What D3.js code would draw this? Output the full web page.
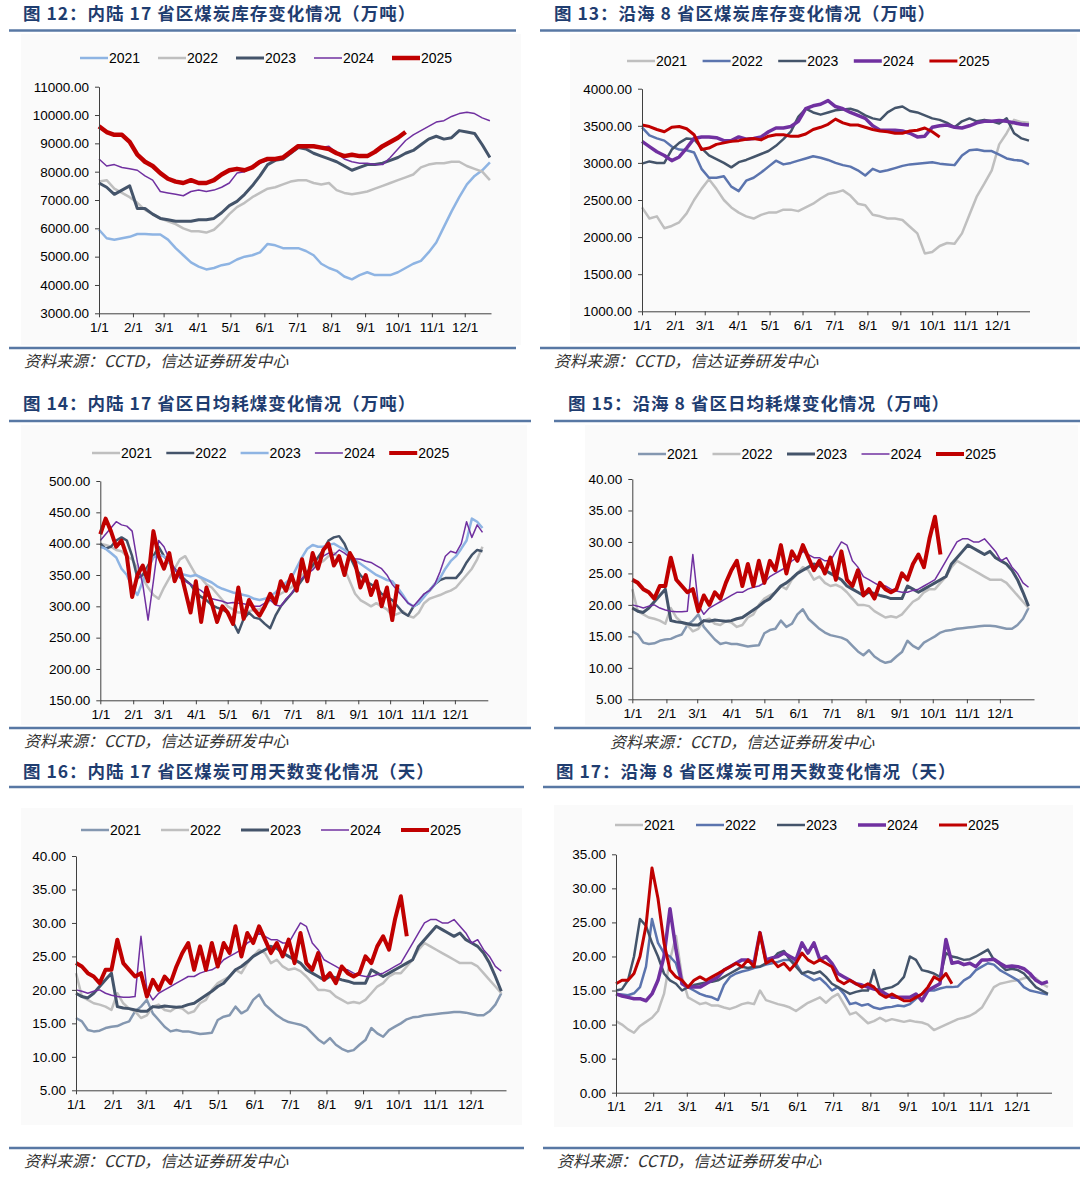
<!DOCTYPE html>
<html lang="zh-CN">
<head>
    <title>煤炭库存、日耗与可用天数</title>
    <meta charset="utf-8">
    <style>
        body { margin: 0; background: #fff; }
        .tick text { font-family: "Liberation Sans", Arial, sans-serif; font-size: 13.5px; fill: #000; }
        .domain, .tick line { stroke: #404040; stroke-width: 1px; }
        .title { font-family: "Noto Sans CJK SC", sans-serif; font-weight: bold; font-size: 17.5px; letter-spacing: 1px; fill: #1f3d70; white-space: pre; }
        .source { font-family: "Noto Sans CJK SC", sans-serif; font-style: italic; font-size: 16px; fill: #333; }
        .legend text { font-family: "Liberation Sans", Arial, sans-serif; font-size: 14px; fill: #000; }
    </style>
    <script src="https://d3js.org/d3.v7.min.js"></script>
</head>

<body>
<div id="chart"></div>

<script>

    // month ticks on the x axis (day of year)
    const monthTicks = [0, 31, 59, 90, 120, 151, 181, 212, 243, 273, 304, 334];
    const monthLabels = ["1/1", "2/1", "3/1", "4/1", "5/1", "6/1", "7/1", "8/1", "9/1", "10/1", "11/1", "12/1"];
    const yearNames = ["2021", "2022", "2023", "2024", "2025"];
    const sourceText = "资料来源：CCTD，信达证券研发中心";

    // 图12 内陆17省区煤炭库存（万吨），one point every 7 days
    const inlandStock2021 = [5950, 5650, 5600, 5650, 5700, 5800, 5800, 5780, 5780, 5600, 5300, 5050, 4800, 4650, 4550, 4600, 4700, 4750, 4900, 5000, 5050, 5150, 5450, 5400, 5300, 5300, 5300, 5200, 5050, 4750, 4600, 4500, 4300, 4200, 4350, 4450, 4350, 4350, 4350, 4450, 4600, 4750, 4850, 5150, 5500, 6050, 6600, 7100, 7550, 7850, 8050, 8330];
    const inlandStock2022 = [7650, 7700, 7400, 7250, 7100, 6900, 6650, 6500, 6350, 6250, 6150, 6000, 5900, 5900, 5850, 5950, 6200, 6500, 6750, 6900, 7100, 7250, 7400, 7450, 7550, 7650, 7700, 7700, 7600, 7550, 7600, 7350, 7250, 7200, 7250, 7300, 7400, 7500, 7600, 7700, 7800, 7900, 8150, 8250, 8300, 8300, 8350, 8350, 8200, 8100, 8000, 7700];
    const inlandStock2023 = [7600, 7450, 7200, 7350, 7500, 6700, 6700, 6500, 6350, 6300, 6250, 6250, 6250, 6300, 6300, 6350, 6550, 6800, 6950, 7200, 7500, 7850, 8250, 8400, 8450, 8650, 8850, 8800, 8650, 8550, 8450, 8350, 8200, 8050, 8150, 8250, 8250, 8300, 8400, 8500, 8650, 8750, 8950, 9150, 9250, 9150, 9200, 9450, 9400, 9350, 8950, 8500];
    const inlandStock2024 = [8450, 8200, 8250, 8150, 8100, 8050, 7850, 7700, 7300, 7250, 7200, 7150, 7300, 7350, 7300, 7350, 7450, 7600, 7950, 8000, 8150, 8300, 8400, 8450, 8500, 8750, 8950, 8950, 8900, 8850, 8900, 8650, 8450, 8350, 8300, 8300, 8250, 8250, 8500, 8800, 9100, 9300, 9450, 9600, 9750, 9800, 9950, 10050, 10100, 10050, 9900, 9800];
    const inlandStock2025 = [9600, 9400, 9300, 9300, 9050, 8600, 8350, 8200, 7950, 7750, 7650, 7600, 7700, 7600, 7600, 7700, 7900, 8050, 8100, 8050, 8150, 8350, 8450, 8450, 8500, 8700, 8900, 8900, 8900, 8850, 8800, 8650, 8550, 8600, 8550, 8550, 8700, 8900, 9050, 9200, 9400];

    // 图13 沿海8省区煤炭库存（万吨），every 7 days
    const coastStock2021 = [2400, 2250, 2280, 2120, 2150, 2200, 2320, 2500, 2650, 2780, 2650, 2500, 2400, 2330, 2280, 2250, 2300, 2330, 2330, 2370, 2370, 2350, 2400, 2450, 2520, 2580, 2600, 2630, 2560, 2450, 2430, 2300, 2280, 2250, 2250, 2230, 2140, 2050, 1780, 1800, 1880, 1920, 1910, 2050, 2300, 2550, 2720, 2900, 3250, 3400, 3580, 3550, 3540];
    const coastStock2022 = [3480, 3370, 3330, 3300, 3220, 3180, 3170, 3140, 2920, 2800, 2800, 2820, 2680, 2620, 2760, 2800, 2870, 2950, 3030, 2980, 3000, 3030, 3060, 3090, 3070, 3040, 3000, 2970, 2950, 2900, 2830, 2920, 2880, 2900, 2930, 2960, 2980, 2990, 3000, 3010, 2990, 2980, 2970, 3100, 3170, 3180, 3160, 3160, 3110, 3060, 3040, 3030, 2980];
    const coastStock2023 = [2990, 3020, 3000, 3000, 3180, 3270, 3330, 3320, 3200, 3100, 3050, 3000, 2940, 3010, 3040, 3080, 3120, 3160, 3230, 3320, 3420, 3620, 3730, 3680, 3650, 3680, 3710, 3720, 3730, 3700, 3640, 3600, 3580, 3680, 3740, 3760, 3700, 3680, 3640, 3600, 3580, 3540, 3480, 3560, 3600, 3560, 3580, 3560, 3530, 3600, 3400, 3330, 3300];
    const coastStock2024 = [3290, 3220, 3150, 3100, 3030, 3080, 3200, 3330, 3350, 3350, 3340, 3300, 3300, 3350, 3320, 3330, 3350, 3420, 3470, 3470, 3490, 3560, 3730, 3770, 3790, 3840, 3760, 3730, 3680, 3640, 3600, 3500, 3440, 3440, 3440, 3430, 3400, 3350, 3360, 3480, 3500, 3510, 3480, 3470, 3500, 3540, 3560, 3560, 3570, 3560, 3540, 3520, 3510];
    const coastStock2025 = [3510, 3490, 3450, 3420, 3480, 3490, 3460, 3380, 3180, 3200, 3250, 3270, 3290, 3300, 3320, 3330, 3310, 3360, 3380, 3380, 3360, 3360, 3390, 3450, 3480, 3520, 3590, 3540, 3510, 3510, 3480, 3450, 3430, 3420, 3400, 3400, 3430, 3440, 3470, 3420, 3350];

    // 图14 内陆17省区日均耗煤（万吨），every 5 days
    const inlandBurn2021 = [400, 398, 395, 390, 388, 380, 375, 360, 345, 330, 318, 312, 330, 345, 360, 375, 380, 365, 350, 345, 335, 330, 320, 310, 300, 295, 290, 290, 292, 295, 295, 300, 310, 315, 320, 325, 330, 340, 350, 355, 362, 368, 372, 380, 385, 378, 360, 340, 320, 310, 305, 300, 305, 300, 295, 285, 288, 292, 285, 282, 290, 305, 312, 315, 318, 322, 325, 330, 340, 350, 360, 375, 395];
    const inlandBurn2022 = [400, 392, 395, 405, 410, 405, 380, 345, 350, 365, 380, 395, 380, 370, 360, 350, 342, 335, 322, 315, 310, 302, 298, 295, 290, 275, 258, 280, 290, 282, 280, 272, 265, 285, 300, 310, 320, 330, 342, 355, 365, 378, 390, 405, 410, 412, 400, 380, 362, 350, 340, 335, 330, 320, 315, 310, 300, 290, 285, 300, 305, 318, 325, 335, 342, 345, 345, 345, 355, 370, 382, 390, 388];
    const inlandBurn2023 = [395, 392, 385, 378, 360, 350, 330, 318, 340, 360, 378, 382, 380, 370, 358, 352, 350, 348, 350, 346, 342, 338, 332, 328, 325, 322, 320, 318, 316, 312, 310, 312, 316, 322, 330, 338, 345, 362, 378, 392, 398, 395, 395, 398, 400, 395, 390, 382, 374, 368, 362, 356, 350, 346, 342, 340, 330, 318, 305, 300, 305, 315, 325, 335, 345, 360, 372, 380, 392, 405, 440, 435, 425];
    const inlandBurn2024 = [405, 415, 425, 435, 430, 428, 420, 370, 335, 278, 340, 405, 395, 375, 360, 345, 340, 335, 330, 325, 318, 312, 310, 308, 305, 306, 305, 304, 302, 300, 300, 305, 310, 302, 300, 312, 320, 335, 345, 352, 358, 368, 380, 385, 382, 390, 385, 378, 376, 375, 372, 370, 365, 360, 350, 335, 325, 315, 305, 300, 310, 320, 325, 335, 355, 380, 388, 385, 400, 435, 410, 430, 418];
    const inlandBurn2025 = [415, 440, 420, 395, 405, 380, 315, 350, 365, 340, 420, 380, 360, 385, 340, 360, 325, 290, 340, 275, 330, 305, 275, 300, 290, 272, 330, 280, 310, 295, 285, 300, 320, 305, 340, 325, 350, 325, 375, 340, 385, 360, 390, 400, 365, 380, 350, 385, 370, 330, 350, 318, 340, 300, 330, 278, 335];

    // 图15 沿海8省区日均耗煤（万吨），every 5 days
    // 图16 in the source repeats these same curves
    const coastBurn2021 = [15.8, 15.3, 14.0, 13.8, 13.9, 14.3, 14.5, 14.6, 15.0, 15.3, 16.8, 17.5, 18.5, 16.5, 15.5, 14.5, 13.8, 14.0, 13.8, 13.8, 13.6, 13.4, 13.5, 13.6, 15.5, 16.0, 16.2, 17.5, 16.5, 17.0, 18.5, 19.3, 17.8, 17.0, 16.2, 15.6, 15.2, 15.0, 14.8, 14.4, 13.5, 12.6, 12.0, 12.8, 11.8, 11.2, 10.8, 11.0, 11.8, 12.5, 14.3, 13.5, 13.0, 14.0, 14.5, 15.0, 15.6, 15.9, 16.0, 16.2, 16.3, 16.4, 16.5, 16.6, 16.7, 16.7, 16.6, 16.4, 16.2, 16.2, 16.8, 17.8, 19.5];
    const coastBurn2022 = [22.5, 19.0, 18.5, 18.0, 17.8, 17.5, 17.0, 19.5, 18.0, 17.2, 16.8, 15.8, 16.2, 17.5, 17.8, 17.0, 16.8, 17.4, 17.2, 16.5, 16.8, 18.0, 18.5, 20.0, 21.0, 21.5, 22.0, 23.0, 22.5, 24.0, 25.0, 26.0, 25.5, 24.0, 24.5, 23.5, 23.0, 23.2, 22.8, 22.0, 21.0, 20.0, 20.0, 19.8, 19.0, 18.5, 18.0, 18.2, 18.0, 18.5, 19.5, 20.5, 21.0, 22.0, 22.5, 22.5, 23.5, 24.5, 26.0, 27.0, 26.5, 26.0, 25.5, 25.0, 24.5, 24.0, 24.0, 24.0, 23.5, 22.5, 21.5, 20.5, 19.5];
    const coastBurn2023 = [19.5, 19.0, 18.8, 19.5, 20.5, 21.5, 22.5, 17.5, 17.3, 17.2, 17.0, 16.8, 16.8, 17.5, 17.4, 17.6, 17.5, 17.4, 17.5, 17.8, 18.0, 18.6, 19.2, 19.8, 20.5, 21.0, 22.0, 23.0, 23.5, 24.2, 25.0, 25.5, 26.0, 26.5, 26.2, 25.5, 25.0, 24.5, 24.0, 23.0, 22.5, 22.0, 21.5, 22.0, 21.8, 21.5, 21.3, 21.0, 21.0, 21.0, 23.0, 22.5, 22.0, 22.5, 23.0, 23.5, 24.0, 24.5, 26.5, 27.5, 28.5, 29.5, 29.0, 28.5, 28.0, 28.5, 27.5, 27.0, 26.5, 25.5, 24.0, 22.0, 19.8];
    const coastBurn2024 = [20.0, 19.8, 19.5, 19.8, 20.0, 19.5, 19.2, 19.0, 18.9, 18.9, 19.0, 28.0, 20.0, 18.5, 19.5, 20.0, 20.5, 21.0, 21.5, 22.0, 22.0, 22.5, 22.8, 23.0, 23.5, 24.5, 25.0, 25.5, 26.0, 27.0, 27.5, 28.5, 28.0, 27.5, 27.5, 27.0, 27.0, 28.5, 30.0, 29.5, 27.0, 26.0, 24.5, 24.0, 23.5, 23.0, 23.0, 22.5, 22.2, 22.0, 22.0, 22.3, 22.5, 23.0, 23.5, 24.0, 25.5, 27.0, 28.5, 30.0, 30.5, 30.5, 30.0, 30.0, 30.5, 29.5, 28.5, 27.0, 27.5, 26.0, 25.0, 23.5, 22.8];
    const coastBurn2025 = [24.0, 23.5, 22.5, 22.0, 21.0, 23.0, 23.0, 27.5, 24.0, 23.0, 22.0, 22.5, 19.0, 21.5, 20.0, 22.0, 21.0, 23.5, 25.5, 27.0, 23.0, 26.5, 23.0, 27.0, 23.5, 27.0, 25.5, 29.5, 25.0, 28.5, 27.0, 29.5, 27.5, 25.5, 27.0, 25.0, 27.5, 24.0, 28.5, 24.0, 23.0, 25.5, 21.5, 22.5, 21.0, 23.5, 22.5, 22.0, 22.5, 25.0, 24.0, 26.5, 28.0, 26.0, 30.5, 34.0, 28.0];

    // 图17 沿海8省区煤炭可用天数（天），every 5 days
    const coastDays2021 = [10.5, 10.0, 9.3, 8.8, 9.8, 10.4, 11.0, 12.0, 14.5, 19.5, 23.0, 17.0, 14.0, 13.5, 13.0, 13.2, 12.8, 12.8, 12.5, 12.3, 12.6, 13.0, 13.2, 13.0, 15.0, 13.6, 13.3, 13.0, 12.8, 12.5, 12.0, 12.6, 13.2, 13.6, 14.0, 13.2, 14.0, 14.5, 13.0, 11.5, 11.8, 11.0, 10.2, 10.5, 11.0, 10.5, 10.8, 10.6, 10.4, 10.6, 10.4, 10.3, 10.0, 9.2, 9.6, 10.0, 10.4, 10.8, 11.0, 11.3, 11.8, 12.5, 14.0, 15.5, 16.0, 16.2, 16.4, 16.5, 16.8, 17.0, 16.8, 16.0, 15.5];
    const coastDays2022 = [14.5, 14.4, 14.3, 14.6, 15.5, 18.5, 25.5, 22.0, 20.5, 20.0, 19.0, 16.0, 15.5, 15.0, 14.5, 14.2, 14.0, 13.6, 15.8, 17.0, 17.5, 17.8, 18.0, 18.3, 18.5, 18.8, 19.0, 19.2, 19.5, 19.5, 19.0, 17.5, 17.0, 16.5, 16.8, 16.0, 15.0, 15.5, 14.5, 13.0, 13.2, 12.8, 13.0, 12.5, 12.3, 12.5, 12.6, 12.8, 12.7, 13.0, 13.8, 14.5, 15.0, 15.0, 15.3, 15.5, 15.5, 15.6, 16.5, 17.0, 18.0, 18.5, 19.0, 18.8, 18.0, 17.5, 17.0, 16.5, 15.5, 15.0, 14.8, 14.6, 14.4];
    const coastDays2023 = [15.0, 15.2, 16.5, 20.0, 25.5, 24.5, 22.0, 20.0, 17.5, 16.5, 16.0, 15.0, 15.5, 15.8, 16.0, 16.2, 16.3, 16.5, 17.0, 17.5, 18.0, 18.5, 18.3, 18.5, 18.5, 19.0, 19.5, 20.5, 20.8, 19.5, 18.5, 17.5, 17.8, 17.5, 17.8, 17.0, 16.0, 15.5, 15.0, 14.5, 14.8, 15.0, 15.0, 18.0, 15.0, 15.3, 15.5, 16.0, 17.0, 20.0, 19.5, 18.0, 17.8, 17.5, 17.0, 20.5, 20.0, 19.8, 19.5, 19.6, 20.0, 20.5, 21.0, 19.5, 18.8, 18.0, 18.2, 18.0, 17.5, 16.5, 15.5, 15.0, 14.5];
    const coastDays2024 = [14.5, 14.2, 14.0, 13.8, 13.8, 13.5, 14.5, 16.5, 20.0, 27.0, 21.0, 16.0, 15.5, 15.5, 15.5, 16.0, 16.5, 17.0, 18.0, 18.5, 19.0, 19.5, 19.5, 19.0, 23.5, 19.5, 19.8, 20.0, 20.5, 20.0, 19.5, 22.0, 20.5, 22.0, 19.5, 20.0, 19.0, 17.5, 17.0, 16.5, 16.0, 15.8, 15.5, 15.2, 15.0, 14.5, 14.0, 14.0, 14.0, 14.0, 14.5, 13.5, 15.0, 15.5, 16.0, 22.5, 19.0, 19.2, 18.8, 19.0, 18.5, 19.5, 19.5, 19.6, 19.0, 18.5, 18.6, 18.5, 18.2, 17.5, 16.5, 16.0, 16.3];
    const coastDays2025 = [16.0, 16.5, 16.5, 17.5, 20.0, 24.5, 33.0, 28.5, 22.0, 18.0, 17.0, 16.5, 15.5, 16.5, 17.0, 16.5, 17.0, 17.5, 18.0, 18.5, 19.0, 18.5, 19.5, 18.5, 23.5, 19.0, 19.5, 18.5, 19.0, 18.0, 19.0, 20.5, 19.5, 19.0, 19.5, 19.0, 18.5, 16.5, 16.0, 16.5, 16.0, 15.5, 16.0, 15.5, 14.5, 14.0, 14.5, 14.0, 13.5, 13.5, 14.0, 14.5, 15.5, 17.0, 16.5, 17.5, 16.0];

    const LIGHT_BLUE = "#8eb4e3",
        GRAY = "#bfbfbf",
        SLATE = "#44546a",
        PURPLE = "#7030a0",
        RED = "#c00000",
        BLUE = "#5b74ae",
        GRAY_BLUE = "#8497b0";

    const panels = [
        {
            title: "图 12：内陆 17 省区煤炭库存变化情况（万吨）", titleX: 23, titleY: 12.5,
            rule: [9, 516], ruleTop: 30.5, ruleBottom: 348, sourceX: 24, sourceY: 360,
            bg: [21, 34, 500, 311],
            xRange: [99, 491], dayEnd: 358, yRange: [313.3, 86.7], yDomain: [3000, 11000],
            yTicks: d3.range(3000, 11001, 1000), step: 7,
            legendX: 80, legendY: 58, legendGap: 78,
            series: [
                {data: inlandStock2021, color: LIGHT_BLUE, width: 2.5},
                {data: inlandStock2022, color: GRAY, width: 2.5},
                {data: inlandStock2023, color: SLATE, width: 3},
                {data: inlandStock2024, color: PURPLE, width: 1.5},
                {data: inlandStock2025, color: RED, width: 4.5}
            ]
        },
        {
            title: "图 13：沿海 8 省区煤炭库存变化情况（万吨）", titleX: 554, titleY: 12.5,
            rule: [540, 1080], ruleTop: 30.5, ruleBottom: 348, sourceX: 554, sourceY: 360,
            bg: [570, 34, 507, 309],
            xRange: [642, 1029.5], dayEnd: 364.5, yRange: [311.3, 88.7], yDomain: [1000, 4000],
            yTicks: d3.range(1000, 4001, 500), step: 7,
            legendX: 627, legendY: 61, legendGap: 75.6,
            series: [
                {data: coastStock2021, color: GRAY, width: 2.5},
                {data: coastStock2022, color: BLUE, width: 2.5},
                {data: coastStock2023, color: SLATE, width: 2.5},
                {data: coastStock2024, color: PURPLE, width: 3.5},
                {data: coastStock2025, color: RED, width: 3}
            ]
        },
        {
            title: "图 14：内陆 17 省区日均耗煤变化情况（万吨）", titleX: 23, titleY: 402.5,
            rule: [9, 531], ruleTop: 421, ruleBottom: 728, sourceX: 24, sourceY: 740,
            bg: [21, 425, 506, 300],
            xRange: [100.3, 487.8], dayEnd: 365, yRange: [700.3, 481], yDomain: [150, 500],
            yTicks: d3.range(150, 501, 50), step: 5,
            legendX: 92, legendY: 453, legendGap: 74.3,
            series: [
                {data: inlandBurn2021, color: GRAY, width: 2.5},
                {data: inlandBurn2022, color: SLATE, width: 2.5},
                {data: inlandBurn2023, color: LIGHT_BLUE, width: 2.5},
                {data: inlandBurn2024, color: PURPLE, width: 1.5},
                {data: inlandBurn2025, color: RED, width: 4}
            ]
        },
        {
            title: "图 15：沿海 8 省区日均耗煤变化情况（万吨）", titleX: 568, titleY: 402.5,
            rule: [554, 1080], ruleTop: 421, ruleBottom: 728, sourceX: 610, sourceY: 741,
            bg: [585, 425, 493, 300],
            xRange: [632.3, 1034], dayEnd: 365, yRange: [699.3, 479], yDomain: [5, 40],
            yTicks: d3.range(5, 41, 5), step: 5,
            legendX: 638, legendY: 454, legendGap: 74.5,
            series: [
                {data: coastBurn2021, color: GRAY_BLUE, width: 2.5},
                {data: coastBurn2022, color: GRAY, width: 2.5},
                {data: coastBurn2023, color: SLATE, width: 3},
                {data: coastBurn2024, color: PURPLE, width: 1.5},
                {data: coastBurn2025, color: RED, width: 4}
            ]
        },
        {
            title: "图 16：内陆 17 省区煤炭可用天数变化情况（天）", titleX: 23, titleY: 770,
            rule: [9, 524], ruleTop: 787, ruleBottom: 1148, sourceX: 24, sourceY: 1160,
            bg: [21, 808, 501, 317],
            xRange: [76, 506], dayEnd: 364, yRange: [1090.3, 856], yDomain: [5, 40],
            yTicks: d3.range(5, 41, 5), step: 5,
            legendX: 81, legendY: 830, legendGap: 80,
            series: [
                {data: coastBurn2021, color: GRAY_BLUE, width: 2.5},
                {data: coastBurn2022, color: GRAY, width: 2.5},
                {data: coastBurn2023, color: SLATE, width: 3},
                {data: coastBurn2024, color: PURPLE, width: 1.5},
                {data: coastBurn2025, color: RED, width: 4}
            ]
        },
        {
            title: "图 17：沿海 8 省区煤炭可用天数变化情况（天）", titleX: 556, titleY: 770,
            rule: [543, 1080], ruleTop: 787, ruleBottom: 1148, sourceX: 557, sourceY: 1160,
            bg: [554, 805, 519, 322],
            xRange: [616, 1051.5], dayEnd: 363, yRange: [1092.7, 854.3], yDomain: [0, 35],
            yTicks: d3.range(0, 36, 5), step: 5,
            legendX: 615, legendY: 825, legendGap: 81,
            series: [
                {data: coastDays2021, color: GRAY, width: 2.5},
                {data: coastDays2022, color: BLUE, width: 2.5},
                {data: coastDays2023, color: SLATE, width: 2.5},
                {data: coastDays2024, color: PURPLE, width: 3.5},
                {data: coastDays2025, color: RED, width: 3}
            ]
        }
    ];

    const svg = d3.select("#chart")
        .append("svg")
        .attr("width", 1080)
        .attr("height", 1187)
        .style("display", "block");

    svg.append("rect")
        .attr("width", 1080)
        .attr("height", 1187)
        .attr("fill", "#fff");

    panels.forEach(p => {
        const g = svg.append("g");

        // faint chart area like the excel export
        g.append("rect")
            .attr("x", p.bg[0]).attr("y", p.bg[1])
            .attr("width", p.bg[2]).attr("height", p.bg[3])
            .attr("fill", "#fafafa");

        // title and the blue rules
        g.append("text")
            .attr("class", "title")
            .attr("x", p.titleX)
            .attr("y", p.titleY)
            .attr("dominant-baseline", "central")
            .text(p.title);

        [p.ruleTop, p.ruleBottom].forEach(ry => {
            g.append("line")
                .attr("x1", p.rule[0]).attr("x2", p.rule[1])
                .attr("y1", ry).attr("y2", ry)
                .attr("stroke", "#5878a4")
                .attr("stroke-width", 2.5);
        });

        g.append("text")
            .attr("class", "source")
            .attr("x", p.sourceX)
            .attr("y", p.sourceY)
            .attr("dominant-baseline", "central")
            .text(sourceText);

        const x = d3.scaleLinear()
            .domain([0, p.dayEnd])
            .range(p.xRange);
        const y = d3.scaleLinear()
            .domain(p.yDomain)
            .range(p.yRange);

        const line = d3.line()
            .x(d => x(d.day))
            .y(d => y(d.v));

        // lines, oldest year first so 2025 sits on top
        p.series.forEach(s => {
            g.append("path")
                .datum(s.data.map((v, i) => ({day: i * p.step, v: v})))
                .attr("fill", "none")
                .attr("stroke", s.color)
                .attr("stroke-width", s.width)
                .attr("stroke-linejoin", "round")
                .attr("d", line);
        });

        g.append("g")
            .attr("transform", `translate(0,${p.yRange[0]})`)
            .call(d3.axisBottom(x)
                .tickValues(monthTicks)
                .tickFormat((d, i) => monthLabels[i])
                .tickSize(4)
                .tickSizeOuter(0)
                .tickPadding(5));

        g.append("g")
            .attr("transform", `translate(${p.xRange[0]},0)`)
            .call(d3.axisLeft(y)
                .tickValues(p.yTicks)
                .tickFormat(d3.format(".2f"))
                .tickSize(4)
                .tickSizeOuter(0)
                .tickPadding(6));

        // legend row
        const legend = g.append("g").attr("class", "legend");
        p.series.forEach((s, i) => {
            const lx = p.legendX + i * p.legendGap;
            legend.append("line")
                .attr("x1", lx).attr("x2", lx + 28)
                .attr("y1", p.legendY).attr("y2", p.legendY)
                .attr("stroke", s.color)
                .attr("stroke-width", s.width);
            legend.append("text")
                .attr("x", lx + 29)
                .attr("y", p.legendY)
                .attr("dominant-baseline", "central")
                .text(yearNames[i]);
        });
    });

</script>
</body>
</html>
